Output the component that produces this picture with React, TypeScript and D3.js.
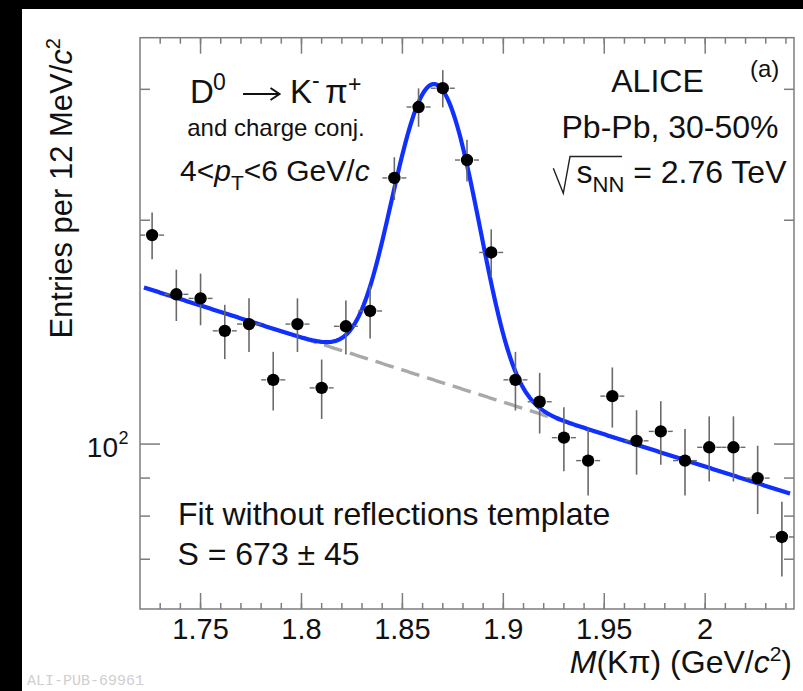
import React from "react";
import * as d3 from "d3";

// invariant mass bin centres (GeV/c^2), 12 MeV bins
const massBins = [
  1.726, 1.738, 1.75, 1.762, 1.774, 1.786, 1.798, 1.81, 1.822, 1.834,
  1.846, 1.858, 1.87, 1.882, 1.894, 1.906, 1.918, 1.93, 1.942, 1.954,
  1.966, 1.978, 1.99, 2.002, 2.014, 2.026, 2.038,
];
// entries per bin
const counts = [
  191, 159, 157, 142, 145, 122, 145, 119, 144, 151,
  228, 284, 301, 241, 181, 122, 114, 102, 95, 116,
  101, 104, 95, 99, 99, 90, 75,
];

// fit: exponential background + gaussian signal
const bkgNorm = 162.4; // at fitRange[0]
const bkgSlope = -1.995; // per GeV/c^2
const sigAmp = 183;
const sigMean = 1.866;
const sigWidth = 0.0173;
const fitRange = [1.722, 2.042];

const xMajorTicks = [1.75, 1.8, 1.85, 1.9, 1.95, 2.0];
const xTickLabels = ["1.75", "1.8", "1.85", "1.9", "1.95", "2"];
const yMajorTicks = [100];
const yMinorTicks = [70, 80, 90, 200, 300];

const W = 803;
const H = 691;
const margin = { top: 37.7, right: 9, bottom: 82, left: 140 };
const font = "'Liberation Sans', Arial, Helvetica, sans-serif";

export default function App() {
  const x = d3.scaleLinear().domain([1.72, 2.044]).range([margin.left, W - margin.right]);
  const y = d3.scaleLog().domain([60, 352]).range([H - margin.bottom, margin.top]);
  const x0 = x.range()[0], x1 = x.range()[1];
  const y0 = y.range()[0], y1 = y.range()[1];

  const bkg = (m: number) => bkgNorm * Math.exp(bkgSlope * (m - fitRange[0]));
  const total = (m: number) =>
    bkg(m) + sigAmp * Math.exp(-0.5 * ((m - sigMean) / sigWidth) ** 2);

  // sampling grid for drawing the fit functions
  const grid = d3.range(fitRange[0], fitRange[1] + 1e-9, 0.0008);
  const bkgPath = d3.line<number>().x((m) => x(m)).y((m) => y(bkg(m)))(grid);
  const totPath = d3.line<number>().x((m) => x(m)).y((m) => y(total(m)))(grid);

  const xMinor = d3.range(1.73, 2.044, 0.01);
  const frameCol = "#7d7d7d";
  const errCol = "#6a6a6a";

  return (
    <svg width={W} height={H} style={{ position: "absolute", left: 0, top: 0, background: "#fff" }}
      fontFamily={font}>
      <rect x={0} y={0} width={W} height={H} fill="#fff" />
      <rect x={0} y={0} width={W} height={9} fill="#000" />
      <rect x={0} y={0} width={22} height={H} fill="#000" />

      {/* frame */}
      <rect x={x0} y={y1} width={x1 - x0} height={y0 - y1} fill="none" stroke={frameCol} strokeWidth={1.5} />

      {/* x ticks, bottom and top */}
      {xMinor.map((m, i) => (
        <g key={"xm" + i} stroke={frameCol} strokeWidth={1.5}>
          <line x1={x(m)} x2={x(m)} y1={y0} y2={y0 - 6} />
          <line x1={x(m)} x2={x(m)} y1={y1} y2={y1 + 6} />
        </g>
      ))}
      {xMajorTicks.map((m, i) => (
        <g key={"xM" + i}>
          <line x1={x(m)} x2={x(m)} y1={y0} y2={y0 - 16} stroke={frameCol} strokeWidth={1.5} />
          <line x1={x(m)} x2={x(m)} y1={y1} y2={y1 + 16} stroke={frameCol} strokeWidth={1.5} />
          <text x={x(m)} y={638.5} fontSize={29} textAnchor="middle" fill="#111">
            {xTickLabels[i]}
          </text>
        </g>
      ))}

      {/* y ticks, left and right */}
      {yMinorTicks.map((v, i) => (
        <g key={"ym" + i} stroke={frameCol} strokeWidth={1.5}>
          <line x1={x0} x2={x0 + 10} y1={y(v)} y2={y(v)} />
          <line x1={x1} x2={x1 - 10} y1={y(v)} y2={y(v)} />
        </g>
      ))}
      {yMajorTicks.map((v, i) => (
        <g key={"yM" + i}>
          <line x1={x0} x2={x0 + 20} y1={y(v)} y2={y(v)} stroke={frameCol} strokeWidth={1.5} />
          <line x1={x1} x2={x1 - 20} y1={y(v)} y2={y(v)} stroke={frameCol} strokeWidth={1.5} />
          <text x={118} y={y(v) + 13} fontSize={28} textAnchor="end" fill="#111">10</text>
          <text x={118.5} y={y(v) - 0.5} fontSize={18} fill="#111">2</text>
        </g>
      ))}

      {/* fit functions */}
      <path d={bkgPath || ""} fill="none" stroke="#a9a9a9" strokeWidth={3.4} strokeDasharray="19 8" />
      <path d={totPath || ""} fill="none" stroke="#1030ff" strokeWidth={4.2} />

      {/* data points */}
      {massBins.map((m, i) => {
        const n = counts[i];
        const e = Math.sqrt(n);
        const cx = x(m), cy = y(n);
        return (
          <g key={"p" + i}>
            <line x1={cx} x2={cx} y1={y(n + e)} y2={y(n - e)} stroke={errCol} strokeWidth={1.6} />
            <line x1={cx - 12} x2={cx - 7} y1={cy} y2={cy} stroke={errCol} strokeWidth={1.4} />
            <line x1={cx + 7} x2={cx + 12} y1={cy} y2={cy} stroke={errCol} strokeWidth={1.4} />
            <circle cx={cx} cy={cy} r={6.2} fill="#000" />
          </g>
        );
      })}

      {/* axis titles */}
      <text x={792} y={673} fontSize={32} textAnchor="end" fill="#111">
        <tspan fontStyle="italic">M</tspan>
        <tspan>(Kπ) (GeV/</tspan>
        <tspan fontStyle="italic">c</tspan>
        <tspan fontSize={21} dy={-12}>2</tspan>
        <tspan dy={12}>)</tspan>
      </text>
      <text transform="translate(72,38) rotate(-90)" fontSize={31} textAnchor="end" fill="#111">
        <tspan>Entries per 12 MeV/</tspan>
        <tspan fontStyle="italic">c</tspan>
        <tspan fontSize={20} dy={-12}>2</tspan>
      </text>

      {/* decay channel */}
      <g fill="#111">
        <text x={190} y={103} fontSize={33}>D</text>
        <text x={213} y={90} fontSize={23}>0</text>
        <path d="M243,94 H279 M270.5,88 L279.5,94 L270.5,100" fill="none" stroke="#111" strokeWidth={2} />
        <text x={290} y={103} fontSize={33}>K</text>
        <text x={312} y={88} fontSize={23}>-</text>
        <text x={325} y={103} fontSize={33}>π</text>
        <text x={348} y={92} fontSize={23}>+</text>
      </g>
      <text x={276} y={136} fontSize={24} textAnchor="middle" fill="#111">and charge conj.</text>
      <text x={180} y={180.5} fontSize={30} fill="#111">
        <tspan>4&lt;</tspan>
        <tspan fontStyle="italic">p</tspan>
        <tspan fontSize={21} dy={9}>T</tspan>
        <tspan dy={-9}>&lt;6 GeV/</tspan>
        <tspan fontStyle="italic">c</tspan>
      </text>

      {/* collision system */}
      <text x={657.5} y={91.7} fontSize={32} textAnchor="middle" fill="#111">ALICE</text>
      <text x={750} y={77} fontSize={24} fill="#111">(a)</text>
      <text x={670} y={138.3} fontSize={32} textAnchor="middle" fill="#111">Pb-Pb, 30-50%</text>
      <path d="M553.3,168.3 L563.3,193.3 L570,156.5 L622,156.5" fill="none" stroke="#222" strokeWidth={1.4} />
      <text x={576.5} y={183.3} fontSize={32} fill="#111">
        <tspan>s</tspan>
        <tspan fontSize={22} dy={9}>NN</tspan>
        <tspan dy={-9}> = 2.76 TeV</tspan>
      </text>

      {/* fit info */}
      <text x={178} y={525} fontSize={32} fill="#111">Fit without reflections template</text>
      <text x={177.5} y={565} fontSize={32} fill="#111">S = 673 ± 45</text>

      <text x={27} y={685} fontSize={15} fill="#cfcfcf" fontFamily="'Liberation Mono', 'DejaVu Sans Mono', monospace">
        ALI-PUB-69961
      </text>
    </svg>
  );
}
